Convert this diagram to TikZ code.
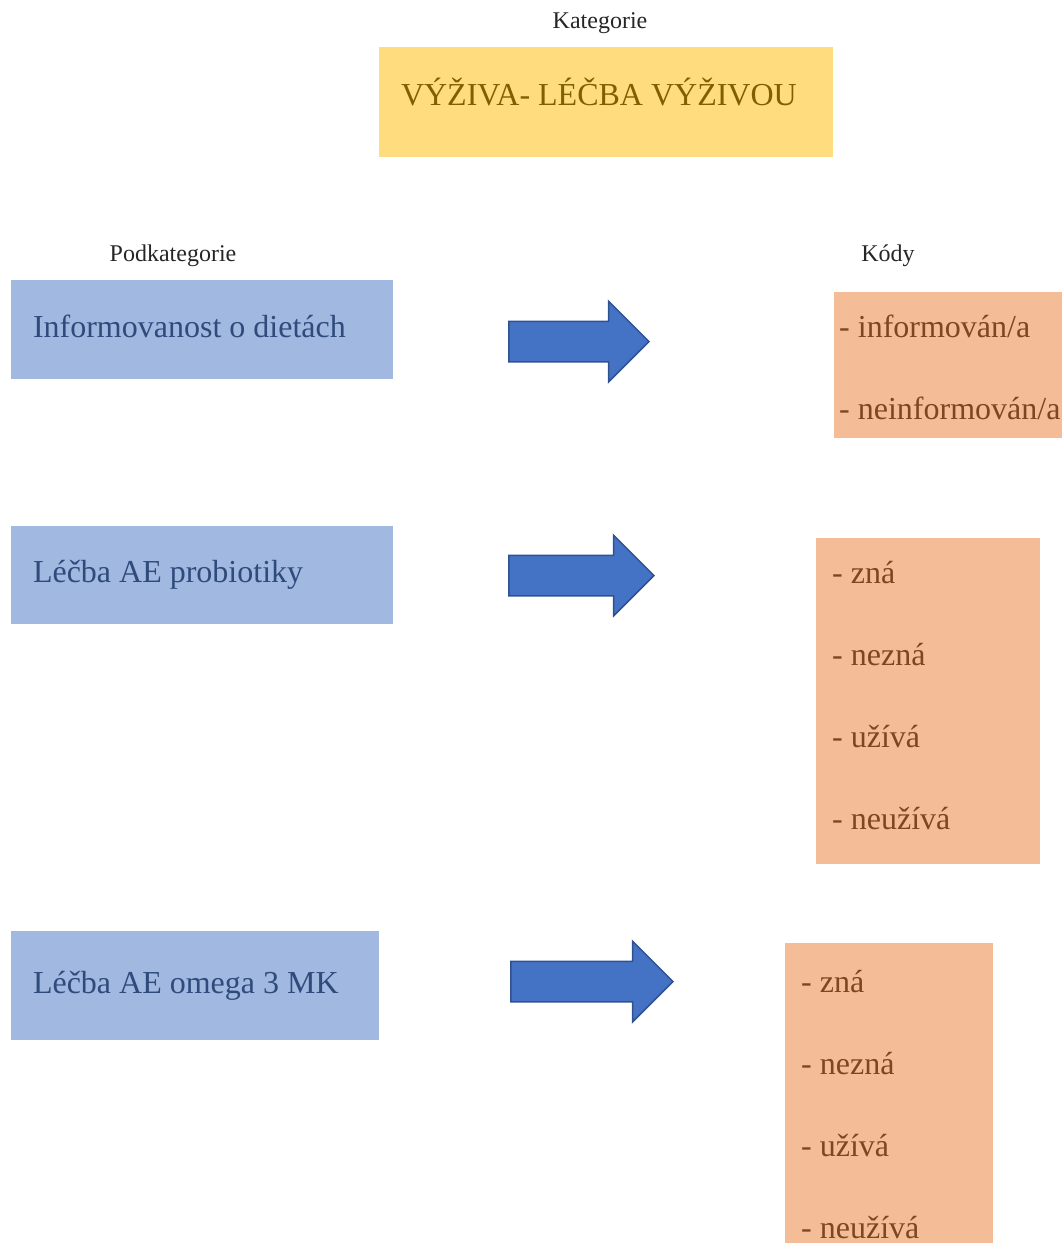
\documentclass[tikz,border=0pt]{standalone}
\usepackage{fontspec}
\setmainfont{Liberation Serif}
\usepackage{tikz}
\usetikzlibrary{shapes.arrows}

\definecolor{katfill}{HTML}{FFDD7F}
\definecolor{katink}{HTML}{7F6000}
\definecolor{podfill}{HTML}{A1B8E1}
\definecolor{podink}{HTML}{2F4B7C}
\definecolor{kodfill}{HTML}{F5BD97}
\definecolor{kodink}{HTML}{7E4622}
\definecolor{arrfill}{HTML}{4472C4}
\definecolor{arrline}{HTML}{2F528F}
\definecolor{headink}{HTML}{262626}

\begin{document}
\begin{tikzpicture}[x=1pt,y=-1pt,
  head/.style={font=\fontsize{24}{29}\selectfont,text=headink},
  katbox/.style={shape=rectangle,fill=katfill,text=katink,font=\fontsize{32}{38}\selectfont,
    inner xsep=22pt,inner ysep=0pt,text height=22pt,text depth=16pt,align=flush left},
  podbox/.style={shape=rectangle,fill=podfill,text=podink,font=\fontsize{32}{38}\selectfont,
    inner xsep=22pt,inner ysep=0pt,text height=22pt,text depth=7pt,align=flush left},
  kodbox/.style={shape=rectangle,fill=kodfill,anchor=north west,inner sep=0pt},
  kodlist/.style={anchor=north west,inner sep=0pt,text=kodink,align=flush left,
    font=\fontsize{32}{82}\selectfont},
  blockarrow/.style={shape=single arrow,fill=arrfill,draw=arrline,line width=1.5pt,
    single arrow tip angle=90,single arrow head extend=20pt,inner xsep=0pt,
    inner ysep=19.5pt,anchor=tip}]
\useasboundingbox (0,0) rectangle (1062,1243);

% kategorie
\path (600,23.4) node (kategorie) [head] {Kategorie};
\path (606,102) node (vyziva) [katbox,minimum width=454pt,minimum height=110pt,text width=410pt] {VÝŽIVA- LÉČBA VÝŽIVOU};

% podkategorie a kody
\path (173,255.4) node (podkat) [head] {Podkategorie};
\path (888,255.4) node (kody) [head] {Kódy};

\path (202,329.5) node (informovanost) [podbox,minimum width=382pt,minimum height=99pt,text width=338pt] {Informovanost o dietách};
\path (202,575) node (probiotika) [podbox,minimum width=382pt,minimum height=98pt,text width=338pt] {Léčba AE probiotiky};
\path (195,985.5) node (omega) [podbox,minimum width=368pt,minimum height=109pt,text width=324pt] {Léčba AE omega 3 MK};

\path (650,341.5) node (sipka1) [blockarrow,minimum height=140pt] {};
\path (655,575.5) node (sipka2) [blockarrow,minimum height=145pt] {};
\path (674,981.5) node (sipka3) [blockarrow,minimum height=162pt] {};

\path (834,292) node (kody1box) [kodbox,minimum width=228pt,minimum height=146pt] {};
\path (816,538) node (kody2box) [kodbox,minimum width=224pt,minimum height=326pt] {};
\path (785,943) node (kody3box) [kodbox,minimum width=208pt,minimum height=300pt] {};

\path (839,315) node (kody1) [kodlist] {- informován/a\\- neinformován/a};
\path (832,561) node (kody2) [kodlist] {- zná\\- nezná\\- užívá\\- neužívá};
\path (801,970) node (kody3) [kodlist] {- zná\\- nezná\\- užívá\\- neužívá};
\end{tikzpicture}
\end{document}
